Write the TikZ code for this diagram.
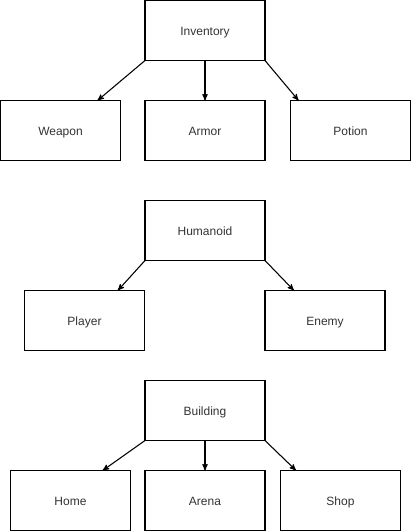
\documentclass[tikz,border=0pt]{standalone}
\usepackage{fontspec}
\setmainfont{Liberation Sans}
\usepackage{tikz}
\usetikzlibrary{
    arrows
}

\begin{document}
\begin{tikzpicture}[->,>=stealth',x=0.75pt,y=-0.75pt,line width=0.8pt]
    \tikzstyle{every node}=[font=\fontsize{9}{11}\selectfont, text=black!80]
    \tikzstyle{box}=[draw, rectangle, minimum width=90pt, minimum height=45pt, inner sep=0pt, outer sep=0pt, text height=8.6pt, text depth=1.8pt]
    \useasboundingbox (0, 0) rectangle (411, 531);
	% inventory
	\node [box] (Inventory) at (205, 30.5) {Inventory};
	\node [box] (Weapon) at (60.5, 130.5) {Weapon};
	\node [box] (Armor) at (205, 130.5) {Armor};
	\node [box] (Potion) at (350.5, 130.5) {Potion};
	% humanoid
	\node [box] (Humanoid) at (205, 230.5) {Humanoid};
	\node [box] (Player) at (84.5, 320.5) {Player};
	\node [box] (Enemy) at (325, 320.5) {Enemy};
	% building
	\node [box] (Building) at (205, 410.5) {Building};
	\node [box] (Home) at (70.5, 500.5) {Home};
	\node [box] (Arena) at (205, 500.5) {Arena};
	\node [box] (Shop) at (340.5, 500.5) {Shop};

	\draw [->] (Inventory.south west) -- (Weapon.39);
	\draw [->] (Inventory.south) -- (Armor.north);
	\draw [->] (Inventory.south east) -- (Potion.150.5);
	\draw [->] (Humanoid.south west) -- (Player.42.3);
	\draw [->] (Humanoid.south east) -- (Enemy.136);
	\draw [->] (Building.south west) -- (Home.43.2);
	\draw [->] (Building.south) -- (Arena.north);
	\draw [->] (Building.south east) -- (Shop.146.3);
\end{tikzpicture}
\end{document}
